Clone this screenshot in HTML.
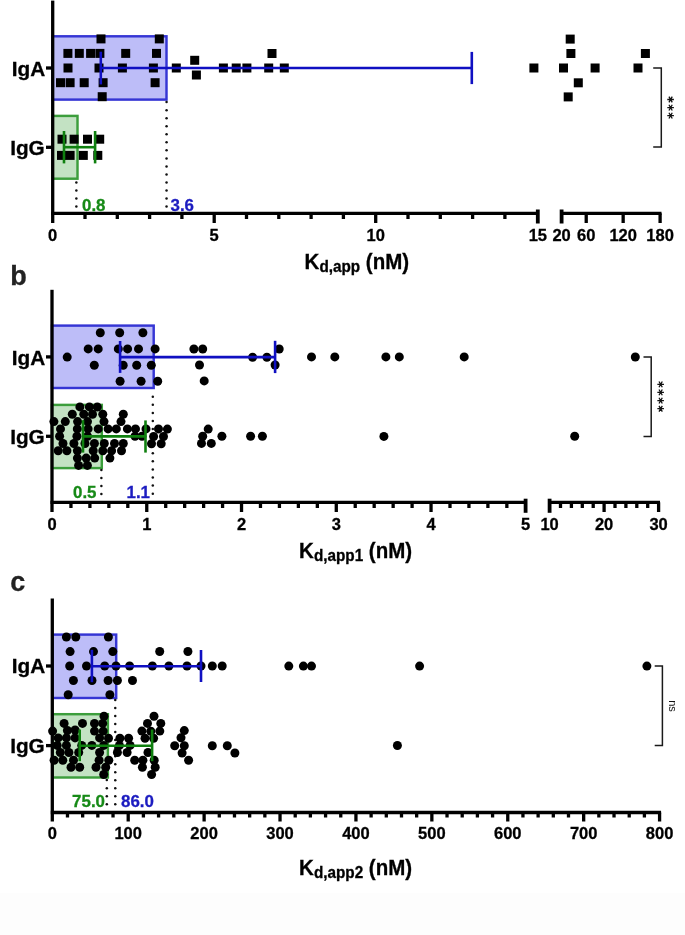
<!DOCTYPE html>
<html><head><meta charset="utf-8"><style>
html,body{margin:0;padding:0;background:#fff;}
body{width:685px;height:935px;overflow:hidden;position:relative;}
svg{position:absolute;left:0;top:0;font-family:"Liberation Sans", sans-serif;will-change:transform;}
.bot{position:absolute;left:0;top:893px;width:685px;height:42px;background:#fdfdfd;}
</style></head><body>
<div class="bot"></div>
<svg width="685" height="935" viewBox="0 0 685 935">
<rect x="52.70" y="36.30" width="113.80" height="63.30" fill="#bdbdf8" stroke="#3535d4" stroke-width="2.45"/>
<rect x="52.70" y="115.90" width="24.80" height="62.80" fill="#c3e2c3" stroke="#3c9e3c" stroke-width="2.45"/>
<circle cx="166.55" cy="102.10" r="1.25" fill="#111"/>
<circle cx="166.55" cy="110.14" r="1.25" fill="#111"/>
<circle cx="166.55" cy="118.18" r="1.25" fill="#111"/>
<circle cx="166.55" cy="126.22" r="1.25" fill="#111"/>
<circle cx="166.55" cy="134.26" r="1.25" fill="#111"/>
<circle cx="166.55" cy="142.30" r="1.25" fill="#111"/>
<circle cx="166.55" cy="150.34" r="1.25" fill="#111"/>
<circle cx="166.55" cy="158.38" r="1.25" fill="#111"/>
<circle cx="166.55" cy="166.42" r="1.25" fill="#111"/>
<circle cx="166.55" cy="174.46" r="1.25" fill="#111"/>
<circle cx="166.55" cy="182.50" r="1.25" fill="#111"/>
<circle cx="166.55" cy="190.54" r="1.25" fill="#111"/>
<circle cx="166.55" cy="198.58" r="1.25" fill="#111"/>
<circle cx="166.55" cy="206.62" r="1.25" fill="#111"/>
<circle cx="76.35" cy="182.40" r="1.25" fill="#111"/>
<circle cx="76.35" cy="190.44" r="1.25" fill="#111"/>
<circle cx="76.35" cy="198.48" r="1.25" fill="#111"/>
<circle cx="76.35" cy="206.52" r="1.25" fill="#111"/>
<rect x="96.50" y="34.40" width="9" height="9" fill="#000"/>
<rect x="154.80" y="34.40" width="9" height="9" fill="#000"/>
<rect x="63.40" y="48.90" width="9" height="9" fill="#000"/>
<rect x="74.80" y="48.90" width="9" height="9" fill="#000"/>
<rect x="86.10" y="48.90" width="9" height="9" fill="#000"/>
<rect x="95.40" y="48.90" width="9" height="9" fill="#000"/>
<rect x="121.20" y="48.90" width="9" height="9" fill="#000"/>
<rect x="152.00" y="48.90" width="9" height="9" fill="#000"/>
<rect x="63.50" y="63.50" width="9" height="9" fill="#000"/>
<rect x="94.50" y="63.50" width="9" height="9" fill="#000"/>
<rect x="117.90" y="63.50" width="9" height="9" fill="#000"/>
<rect x="148.90" y="63.50" width="9" height="9" fill="#000"/>
<rect x="56.00" y="78.20" width="9" height="9" fill="#000"/>
<rect x="65.60" y="78.20" width="9" height="9" fill="#000"/>
<rect x="79.70" y="78.20" width="9" height="9" fill="#000"/>
<rect x="98.60" y="78.20" width="9" height="9" fill="#000"/>
<rect x="150.60" y="78.20" width="9" height="9" fill="#000"/>
<rect x="97.70" y="92.20" width="9" height="9" fill="#000"/>
<rect x="171.80" y="63.50" width="9" height="9" fill="#000"/>
<rect x="190.20" y="55.80" width="9" height="9" fill="#000"/>
<rect x="191.90" y="70.50" width="9" height="9" fill="#000"/>
<rect x="218.90" y="63.50" width="9" height="9" fill="#000"/>
<rect x="231.70" y="63.50" width="9" height="9" fill="#000"/>
<rect x="242.40" y="63.50" width="9" height="9" fill="#000"/>
<rect x="264.20" y="63.50" width="9" height="9" fill="#000"/>
<rect x="267.50" y="49.00" width="9" height="9" fill="#000"/>
<rect x="279.80" y="63.50" width="9" height="9" fill="#000"/>
<rect x="529.40" y="63.50" width="9" height="9" fill="#000"/>
<rect x="565.70" y="34.60" width="9" height="9" fill="#000"/>
<rect x="566.40" y="49.00" width="9" height="9" fill="#000"/>
<rect x="559.00" y="63.50" width="9" height="9" fill="#000"/>
<rect x="590.60" y="63.50" width="9" height="9" fill="#000"/>
<rect x="573.80" y="78.30" width="9" height="9" fill="#000"/>
<rect x="563.70" y="92.40" width="9" height="9" fill="#000"/>
<rect x="640.90" y="49.00" width="9" height="9" fill="#000"/>
<rect x="633.50" y="63.50" width="9" height="9" fill="#000"/>
<rect x="57.50" y="134.70" width="9" height="9" fill="#000"/>
<rect x="69.60" y="134.70" width="9" height="9" fill="#000"/>
<rect x="83.00" y="134.70" width="9" height="9" fill="#000"/>
<rect x="95.20" y="134.70" width="9" height="9" fill="#000"/>
<rect x="57.00" y="150.90" width="9" height="9" fill="#000"/>
<rect x="65.60" y="150.90" width="9" height="9" fill="#000"/>
<rect x="78.80" y="150.90" width="9" height="9" fill="#000"/>
<rect x="93.30" y="150.90" width="9" height="9" fill="#000"/>
<line x1="100.80" y1="51.70" x2="100.80" y2="84.40" stroke="#1010c2" stroke-width="2.6" stroke-linecap="butt"/>
<line x1="100.80" y1="68.00" x2="471.80" y2="68.00" stroke="#1010c2" stroke-width="2.6" stroke-linecap="butt"/>
<line x1="471.80" y1="51.90" x2="471.80" y2="84.10" stroke="#1010c2" stroke-width="2.6" stroke-linecap="butt"/>
<line x1="64.00" y1="131.00" x2="64.00" y2="163.40" stroke="#0f800f" stroke-width="2.6" stroke-linecap="butt"/>
<line x1="95.10" y1="131.00" x2="95.10" y2="163.40" stroke="#0f800f" stroke-width="2.6" stroke-linecap="butt"/>
<line x1="64.00" y1="147.20" x2="95.10" y2="147.20" stroke="#0f800f" stroke-width="2.6" stroke-linecap="butt"/>
<line x1="52.70" y1="0.60" x2="52.70" y2="223.00" stroke="#000" stroke-width="3.3" stroke-linecap="butt"/>
<line x1="51.20" y1="213.30" x2="537.80" y2="213.30" stroke="#000" stroke-width="3.3" stroke-linecap="butt"/>
<line x1="560.10" y1="213.30" x2="661.50" y2="213.30" stroke="#000" stroke-width="3.3" stroke-linecap="butt"/>
<line x1="85.00" y1="213.30" x2="85.00" y2="219.00" stroke="#000" stroke-width="3.3" stroke-linecap="butt"/>
<line x1="117.30" y1="213.30" x2="117.30" y2="219.00" stroke="#000" stroke-width="3.3" stroke-linecap="butt"/>
<line x1="149.60" y1="213.30" x2="149.60" y2="219.00" stroke="#000" stroke-width="3.3" stroke-linecap="butt"/>
<line x1="181.90" y1="213.30" x2="181.90" y2="219.00" stroke="#000" stroke-width="3.3" stroke-linecap="butt"/>
<line x1="214.20" y1="213.30" x2="214.20" y2="223.00" stroke="#000" stroke-width="3.3" stroke-linecap="butt"/>
<line x1="246.50" y1="213.30" x2="246.50" y2="219.00" stroke="#000" stroke-width="3.3" stroke-linecap="butt"/>
<line x1="278.80" y1="213.30" x2="278.80" y2="219.00" stroke="#000" stroke-width="3.3" stroke-linecap="butt"/>
<line x1="311.10" y1="213.30" x2="311.10" y2="219.00" stroke="#000" stroke-width="3.3" stroke-linecap="butt"/>
<line x1="343.40" y1="213.30" x2="343.40" y2="219.00" stroke="#000" stroke-width="3.3" stroke-linecap="butt"/>
<line x1="375.70" y1="213.30" x2="375.70" y2="223.00" stroke="#000" stroke-width="3.3" stroke-linecap="butt"/>
<line x1="408.00" y1="213.30" x2="408.00" y2="219.00" stroke="#000" stroke-width="3.3" stroke-linecap="butt"/>
<line x1="440.30" y1="213.30" x2="440.30" y2="219.00" stroke="#000" stroke-width="3.3" stroke-linecap="butt"/>
<line x1="472.60" y1="213.30" x2="472.60" y2="219.00" stroke="#000" stroke-width="3.3" stroke-linecap="butt"/>
<line x1="504.90" y1="213.30" x2="504.90" y2="219.00" stroke="#000" stroke-width="3.3" stroke-linecap="butt"/>
<line x1="537.80" y1="209.50" x2="537.80" y2="223.50" stroke="#000" stroke-width="3.8" stroke-linecap="butt"/>
<line x1="561.60" y1="209.50" x2="561.60" y2="223.50" stroke="#000" stroke-width="3.8" stroke-linecap="butt"/>
<line x1="586.22" y1="213.30" x2="586.22" y2="223.00" stroke="#000" stroke-width="3.3" stroke-linecap="butt"/>
<line x1="623.16" y1="213.30" x2="623.16" y2="223.00" stroke="#000" stroke-width="3.3" stroke-linecap="butt"/>
<line x1="660.10" y1="213.30" x2="660.10" y2="223.00" stroke="#000" stroke-width="3.3" stroke-linecap="butt"/>
<line x1="46.00" y1="68.00" x2="52.70" y2="68.00" stroke="#000" stroke-width="3.3" stroke-linecap="butt"/>
<line x1="46.00" y1="147.30" x2="52.70" y2="147.30" stroke="#000" stroke-width="3.3" stroke-linecap="butt"/>
<text transform="translate(45.30 75.80) scale(1.0 0.99)" font-size="20.8" fill="#000" stroke="#000" stroke-width="0.3" text-anchor="end" font-weight="bold" >IgA</text>
<text transform="translate(44.80 154.80) scale(1.0 0.99)" font-size="20.8" fill="#000" stroke="#000" stroke-width="0.3" text-anchor="end" font-weight="bold" >IgG</text>
<text transform="translate(52.70 240.80) scale(1.0 1.0)" font-size="16.5" fill="#000" stroke="#000" stroke-width="0.3" text-anchor="middle" font-weight="bold" >0</text>
<text transform="translate(214.20 240.80) scale(1.0 1.0)" font-size="16.5" fill="#000" stroke="#000" stroke-width="0.3" text-anchor="middle" font-weight="bold" >5</text>
<text transform="translate(375.70 240.80) scale(1.0 1.0)" font-size="16.5" fill="#000" stroke="#000" stroke-width="0.3" text-anchor="middle" font-weight="bold" >10</text>
<text transform="translate(537.80 240.80) scale(1.0 1.0)" font-size="16.5" fill="#000" stroke="#000" stroke-width="0.3" text-anchor="middle" font-weight="bold" >15</text>
<text transform="translate(561.60 240.80) scale(1.0 1.0)" font-size="16.5" fill="#000" stroke="#000" stroke-width="0.3" text-anchor="middle" font-weight="bold" >20</text>
<text transform="translate(586.22 240.80) scale(1.0 1.0)" font-size="16.5" fill="#000" stroke="#000" stroke-width="0.3" text-anchor="middle" font-weight="bold" >60</text>
<text transform="translate(623.16 240.80) scale(1.0 1.0)" font-size="16.5" fill="#000" stroke="#000" stroke-width="0.3" text-anchor="middle" font-weight="bold" >120</text>
<text transform="translate(660.10 240.80) scale(1.0 1.0)" font-size="16.5" fill="#000" stroke="#000" stroke-width="0.3" text-anchor="middle" font-weight="bold" >180</text>
<text transform="translate(82.00 210.60) scale(1.0 0.98)" font-size="16.9" fill="#178a17" stroke="#178a17" stroke-width="0.3" text-anchor="start" font-weight="bold" >0.8</text>
<text transform="translate(170.50 210.60) scale(1.0 0.98)" font-size="16.9" fill="#1c1cc0" stroke="#1c1cc0" stroke-width="0.3" text-anchor="start" font-weight="bold" >3.6</text>
<text transform="translate(304.60 268.80) scale(1 1.04)" font-size="20.5" font-weight="bold" stroke="#000" stroke-width="0.3">K<tspan font-size="15.3" dy="3.2">d,app</tspan><tspan dy="-3.2"> (nM)</tspan></text>
<path d="M653.2 68 H661.3 V147.1 H653.2" fill="none" stroke="#1a1a1a" stroke-width="1.5"/>
<path d="M667.30 99.50L673.90 99.50M668.95 96.64L672.25 102.36M672.25 96.64L668.95 102.36" stroke="#111" stroke-width="1.3" fill="none"/>
<path d="M667.30 107.60L673.90 107.60M668.95 104.74L672.25 110.46M672.25 104.74L668.95 110.46" stroke="#111" stroke-width="1.3" fill="none"/>
<path d="M667.30 115.60L673.90 115.60M668.95 112.74L672.25 118.46M672.25 112.74L668.95 118.46" stroke="#111" stroke-width="1.3" fill="none"/>
<rect x="52.00" y="325.60" width="101.70" height="62.40" fill="#bdbdf8" stroke="#3535d4" stroke-width="2.45"/>
<rect x="52.00" y="404.90" width="49.80" height="63.20" fill="#c3e2c3" stroke="#3c9e3c" stroke-width="2.45"/>
<circle cx="152.80" cy="396.80" r="1.25" fill="#111"/>
<circle cx="152.80" cy="404.87" r="1.25" fill="#111"/>
<circle cx="152.80" cy="412.94" r="1.25" fill="#111"/>
<circle cx="152.80" cy="421.01" r="1.25" fill="#111"/>
<circle cx="152.80" cy="429.08" r="1.25" fill="#111"/>
<circle cx="152.80" cy="437.15" r="1.25" fill="#111"/>
<circle cx="152.80" cy="445.22" r="1.25" fill="#111"/>
<circle cx="152.80" cy="453.29" r="1.25" fill="#111"/>
<circle cx="152.80" cy="461.36" r="1.25" fill="#111"/>
<circle cx="152.80" cy="469.43" r="1.25" fill="#111"/>
<circle cx="152.80" cy="477.50" r="1.25" fill="#111"/>
<circle cx="152.80" cy="485.57" r="1.25" fill="#111"/>
<circle cx="152.80" cy="493.64" r="1.25" fill="#111"/>
<circle cx="101.40" cy="470.10" r="1.25" fill="#111"/>
<circle cx="101.40" cy="478.10" r="1.25" fill="#111"/>
<circle cx="101.40" cy="486.10" r="1.25" fill="#111"/>
<circle cx="101.40" cy="494.10" r="1.25" fill="#111"/>
<circle cx="100.30" cy="332.80" r="4.5" fill="#000"/>
<circle cx="119.70" cy="332.80" r="4.5" fill="#000"/>
<circle cx="142.90" cy="332.80" r="4.5" fill="#000"/>
<circle cx="88.20" cy="348.90" r="4.5" fill="#000"/>
<circle cx="98.20" cy="348.90" r="4.5" fill="#000"/>
<circle cx="118.30" cy="348.90" r="4.5" fill="#000"/>
<circle cx="127.60" cy="348.90" r="4.5" fill="#000"/>
<circle cx="138.50" cy="348.90" r="4.5" fill="#000"/>
<circle cx="155.10" cy="348.90" r="4.5" fill="#000"/>
<circle cx="67.20" cy="357.10" r="4.5" fill="#000"/>
<circle cx="94.30" cy="365.20" r="4.5" fill="#000"/>
<circle cx="123.20" cy="365.20" r="4.5" fill="#000"/>
<circle cx="136.70" cy="365.20" r="4.5" fill="#000"/>
<circle cx="151.30" cy="365.20" r="4.5" fill="#000"/>
<circle cx="120.10" cy="381.30" r="4.5" fill="#000"/>
<circle cx="141.10" cy="381.30" r="4.5" fill="#000"/>
<circle cx="157.70" cy="381.30" r="4.5" fill="#000"/>
<circle cx="193.90" cy="349.00" r="4.5" fill="#000"/>
<circle cx="202.70" cy="349.00" r="4.5" fill="#000"/>
<circle cx="199.50" cy="365.00" r="4.5" fill="#000"/>
<circle cx="204.20" cy="380.90" r="4.5" fill="#000"/>
<circle cx="252.60" cy="357.20" r="4.5" fill="#000"/>
<circle cx="266.90" cy="357.20" r="4.5" fill="#000"/>
<circle cx="279.20" cy="349.00" r="4.5" fill="#000"/>
<circle cx="275.10" cy="365.00" r="4.5" fill="#000"/>
<circle cx="311.50" cy="356.90" r="4.5" fill="#000"/>
<circle cx="334.80" cy="356.90" r="4.5" fill="#000"/>
<circle cx="385.90" cy="356.90" r="4.5" fill="#000"/>
<circle cx="399.30" cy="356.90" r="4.5" fill="#000"/>
<circle cx="464.20" cy="356.90" r="4.5" fill="#000"/>
<circle cx="635.30" cy="357.00" r="4.5" fill="#000"/>
<circle cx="79.90" cy="406.90" r="4.5" fill="#000"/>
<circle cx="89.40" cy="406.90" r="4.5" fill="#000"/>
<circle cx="97.30" cy="407.00" r="4.5" fill="#000"/>
<circle cx="72.30" cy="414.30" r="4.5" fill="#000"/>
<circle cx="83.80" cy="414.30" r="4.5" fill="#000"/>
<circle cx="92.50" cy="414.30" r="4.5" fill="#000"/>
<circle cx="102.80" cy="414.30" r="4.5" fill="#000"/>
<circle cx="123.30" cy="414.30" r="4.5" fill="#000"/>
<circle cx="53.90" cy="421.60" r="4.5" fill="#000"/>
<circle cx="65.30" cy="421.60" r="4.5" fill="#000"/>
<circle cx="77.60" cy="421.60" r="4.5" fill="#000"/>
<circle cx="87.50" cy="421.60" r="4.5" fill="#000"/>
<circle cx="104.00" cy="421.60" r="4.5" fill="#000"/>
<circle cx="121.00" cy="421.60" r="4.5" fill="#000"/>
<circle cx="60.50" cy="428.90" r="4.5" fill="#000"/>
<circle cx="77.30" cy="428.90" r="4.5" fill="#000"/>
<circle cx="88.10" cy="428.90" r="4.5" fill="#000"/>
<circle cx="98.20" cy="428.90" r="4.5" fill="#000"/>
<circle cx="108.10" cy="428.90" r="4.5" fill="#000"/>
<circle cx="116.30" cy="428.90" r="4.5" fill="#000"/>
<circle cx="127.40" cy="428.90" r="4.5" fill="#000"/>
<circle cx="135.50" cy="428.90" r="4.5" fill="#000"/>
<circle cx="146.00" cy="428.90" r="4.5" fill="#000"/>
<circle cx="158.50" cy="428.90" r="4.5" fill="#000"/>
<circle cx="167.40" cy="429.10" r="4.5" fill="#000"/>
<circle cx="59.60" cy="436.20" r="4.5" fill="#000"/>
<circle cx="76.90" cy="436.20" r="4.5" fill="#000"/>
<circle cx="87.50" cy="436.20" r="4.5" fill="#000"/>
<circle cx="135.00" cy="436.20" r="4.5" fill="#000"/>
<circle cx="142.00" cy="436.20" r="4.5" fill="#000"/>
<circle cx="153.60" cy="436.50" r="4.5" fill="#000"/>
<circle cx="163.50" cy="436.50" r="4.5" fill="#000"/>
<circle cx="63.00" cy="443.50" r="4.5" fill="#000"/>
<circle cx="73.90" cy="443.50" r="4.5" fill="#000"/>
<circle cx="85.00" cy="443.50" r="4.5" fill="#000"/>
<circle cx="94.40" cy="443.50" r="4.5" fill="#000"/>
<circle cx="104.30" cy="443.50" r="4.5" fill="#000"/>
<circle cx="114.50" cy="443.50" r="4.5" fill="#000"/>
<circle cx="123.30" cy="443.50" r="4.5" fill="#000"/>
<circle cx="151.50" cy="443.80" r="4.5" fill="#000"/>
<circle cx="161.20" cy="443.80" r="4.5" fill="#000"/>
<circle cx="58.20" cy="450.80" r="4.5" fill="#000"/>
<circle cx="66.90" cy="450.80" r="4.5" fill="#000"/>
<circle cx="77.40" cy="450.80" r="4.5" fill="#000"/>
<circle cx="93.20" cy="450.80" r="4.5" fill="#000"/>
<circle cx="102.80" cy="450.80" r="4.5" fill="#000"/>
<circle cx="111.60" cy="450.80" r="4.5" fill="#000"/>
<circle cx="121.50" cy="450.80" r="4.5" fill="#000"/>
<circle cx="77.40" cy="458.10" r="4.5" fill="#000"/>
<circle cx="86.20" cy="458.10" r="4.5" fill="#000"/>
<circle cx="94.70" cy="458.10" r="4.5" fill="#000"/>
<circle cx="109.90" cy="458.10" r="4.5" fill="#000"/>
<circle cx="78.60" cy="465.40" r="4.5" fill="#000"/>
<circle cx="87.40" cy="465.40" r="4.5" fill="#000"/>
<circle cx="208.20" cy="429.10" r="4.5" fill="#000"/>
<circle cx="202.70" cy="436.30" r="4.5" fill="#000"/>
<circle cx="221.90" cy="436.30" r="4.5" fill="#000"/>
<circle cx="201.50" cy="443.40" r="4.5" fill="#000"/>
<circle cx="211.30" cy="443.40" r="4.5" fill="#000"/>
<circle cx="250.60" cy="436.30" r="4.5" fill="#000"/>
<circle cx="262.40" cy="436.30" r="4.5" fill="#000"/>
<circle cx="383.90" cy="436.40" r="4.5" fill="#000"/>
<circle cx="574.70" cy="436.20" r="4.5" fill="#000"/>
<line x1="120.10" y1="341.00" x2="120.10" y2="372.90" stroke="#1010c2" stroke-width="2.6" stroke-linecap="butt"/>
<line x1="120.10" y1="357.10" x2="275.10" y2="357.10" stroke="#1010c2" stroke-width="2.6" stroke-linecap="butt"/>
<line x1="275.10" y1="340.80" x2="275.10" y2="373.10" stroke="#1010c2" stroke-width="2.6" stroke-linecap="butt"/>
<line x1="83.00" y1="420.20" x2="83.00" y2="452.60" stroke="#0f800f" stroke-width="2.6" stroke-linecap="butt"/>
<line x1="83.00" y1="436.40" x2="145.50" y2="436.40" stroke="#0f800f" stroke-width="2.6" stroke-linecap="butt"/>
<line x1="145.50" y1="420.40" x2="145.50" y2="452.60" stroke="#0f800f" stroke-width="2.6" stroke-linecap="butt"/>
<line x1="52.00" y1="289.80" x2="52.00" y2="512.00" stroke="#000" stroke-width="3.3" stroke-linecap="butt"/>
<line x1="50.50" y1="502.30" x2="525.60" y2="502.30" stroke="#000" stroke-width="3.3" stroke-linecap="butt"/>
<line x1="548.10" y1="502.30" x2="660.00" y2="502.30" stroke="#000" stroke-width="3.3" stroke-linecap="butt"/>
<line x1="70.95" y1="502.30" x2="70.95" y2="508.00" stroke="#000" stroke-width="3.3" stroke-linecap="butt"/>
<line x1="89.90" y1="502.30" x2="89.90" y2="508.00" stroke="#000" stroke-width="3.3" stroke-linecap="butt"/>
<line x1="108.86" y1="502.30" x2="108.86" y2="508.00" stroke="#000" stroke-width="3.3" stroke-linecap="butt"/>
<line x1="127.81" y1="502.30" x2="127.81" y2="508.00" stroke="#000" stroke-width="3.3" stroke-linecap="butt"/>
<line x1="146.76" y1="502.30" x2="146.76" y2="512.00" stroke="#000" stroke-width="3.3" stroke-linecap="butt"/>
<line x1="165.71" y1="502.30" x2="165.71" y2="508.00" stroke="#000" stroke-width="3.3" stroke-linecap="butt"/>
<line x1="184.66" y1="502.30" x2="184.66" y2="508.00" stroke="#000" stroke-width="3.3" stroke-linecap="butt"/>
<line x1="203.62" y1="502.30" x2="203.62" y2="508.00" stroke="#000" stroke-width="3.3" stroke-linecap="butt"/>
<line x1="222.57" y1="502.30" x2="222.57" y2="508.00" stroke="#000" stroke-width="3.3" stroke-linecap="butt"/>
<line x1="241.52" y1="502.30" x2="241.52" y2="512.00" stroke="#000" stroke-width="3.3" stroke-linecap="butt"/>
<line x1="260.47" y1="502.30" x2="260.47" y2="508.00" stroke="#000" stroke-width="3.3" stroke-linecap="butt"/>
<line x1="279.42" y1="502.30" x2="279.42" y2="508.00" stroke="#000" stroke-width="3.3" stroke-linecap="butt"/>
<line x1="298.38" y1="502.30" x2="298.38" y2="508.00" stroke="#000" stroke-width="3.3" stroke-linecap="butt"/>
<line x1="317.33" y1="502.30" x2="317.33" y2="508.00" stroke="#000" stroke-width="3.3" stroke-linecap="butt"/>
<line x1="336.28" y1="502.30" x2="336.28" y2="512.00" stroke="#000" stroke-width="3.3" stroke-linecap="butt"/>
<line x1="355.23" y1="502.30" x2="355.23" y2="508.00" stroke="#000" stroke-width="3.3" stroke-linecap="butt"/>
<line x1="374.18" y1="502.30" x2="374.18" y2="508.00" stroke="#000" stroke-width="3.3" stroke-linecap="butt"/>
<line x1="393.14" y1="502.30" x2="393.14" y2="508.00" stroke="#000" stroke-width="3.3" stroke-linecap="butt"/>
<line x1="412.09" y1="502.30" x2="412.09" y2="508.00" stroke="#000" stroke-width="3.3" stroke-linecap="butt"/>
<line x1="431.04" y1="502.30" x2="431.04" y2="512.00" stroke="#000" stroke-width="3.3" stroke-linecap="butt"/>
<line x1="449.99" y1="502.30" x2="449.99" y2="508.00" stroke="#000" stroke-width="3.3" stroke-linecap="butt"/>
<line x1="468.94" y1="502.30" x2="468.94" y2="508.00" stroke="#000" stroke-width="3.3" stroke-linecap="butt"/>
<line x1="487.90" y1="502.30" x2="487.90" y2="508.00" stroke="#000" stroke-width="3.3" stroke-linecap="butt"/>
<line x1="506.85" y1="502.30" x2="506.85" y2="508.00" stroke="#000" stroke-width="3.3" stroke-linecap="butt"/>
<line x1="525.60" y1="498.70" x2="525.60" y2="512.80" stroke="#000" stroke-width="3.8" stroke-linecap="butt"/>
<line x1="549.60" y1="498.70" x2="549.60" y2="512.80" stroke="#000" stroke-width="3.8" stroke-linecap="butt"/>
<line x1="560.50" y1="502.30" x2="560.50" y2="508.00" stroke="#000" stroke-width="3.3" stroke-linecap="butt"/>
<line x1="571.40" y1="502.30" x2="571.40" y2="508.00" stroke="#000" stroke-width="3.3" stroke-linecap="butt"/>
<line x1="582.30" y1="502.30" x2="582.30" y2="508.00" stroke="#000" stroke-width="3.3" stroke-linecap="butt"/>
<line x1="593.20" y1="502.30" x2="593.20" y2="508.00" stroke="#000" stroke-width="3.3" stroke-linecap="butt"/>
<line x1="604.10" y1="502.30" x2="604.10" y2="512.00" stroke="#000" stroke-width="3.3" stroke-linecap="butt"/>
<line x1="615.00" y1="502.30" x2="615.00" y2="508.00" stroke="#000" stroke-width="3.3" stroke-linecap="butt"/>
<line x1="625.90" y1="502.30" x2="625.90" y2="508.00" stroke="#000" stroke-width="3.3" stroke-linecap="butt"/>
<line x1="636.80" y1="502.30" x2="636.80" y2="508.00" stroke="#000" stroke-width="3.3" stroke-linecap="butt"/>
<line x1="647.70" y1="502.30" x2="647.70" y2="508.00" stroke="#000" stroke-width="3.3" stroke-linecap="butt"/>
<line x1="658.60" y1="502.30" x2="658.60" y2="512.00" stroke="#000" stroke-width="3.3" stroke-linecap="butt"/>
<line x1="46.00" y1="356.90" x2="52.00" y2="356.90" stroke="#000" stroke-width="3.3" stroke-linecap="butt"/>
<line x1="46.00" y1="436.30" x2="52.00" y2="436.30" stroke="#000" stroke-width="3.3" stroke-linecap="butt"/>
<text transform="translate(45.30 364.80) scale(1.0 0.99)" font-size="20.8" fill="#000" stroke="#000" stroke-width="0.3" text-anchor="end" font-weight="bold" >IgA</text>
<text transform="translate(44.80 443.50) scale(1.0 0.99)" font-size="20.8" fill="#000" stroke="#000" stroke-width="0.3" text-anchor="end" font-weight="bold" >IgG</text>
<text transform="translate(52.00 529.50) scale(1.0 1.0)" font-size="16.5" fill="#000" stroke="#000" stroke-width="0.3" text-anchor="middle" font-weight="bold" >0</text>
<text transform="translate(146.76 529.50) scale(1.0 1.0)" font-size="16.5" fill="#000" stroke="#000" stroke-width="0.3" text-anchor="middle" font-weight="bold" >1</text>
<text transform="translate(241.52 529.50) scale(1.0 1.0)" font-size="16.5" fill="#000" stroke="#000" stroke-width="0.3" text-anchor="middle" font-weight="bold" >2</text>
<text transform="translate(336.28 529.50) scale(1.0 1.0)" font-size="16.5" fill="#000" stroke="#000" stroke-width="0.3" text-anchor="middle" font-weight="bold" >3</text>
<text transform="translate(431.04 529.50) scale(1.0 1.0)" font-size="16.5" fill="#000" stroke="#000" stroke-width="0.3" text-anchor="middle" font-weight="bold" >4</text>
<text transform="translate(525.60 529.50) scale(1.0 1.0)" font-size="16.5" fill="#000" stroke="#000" stroke-width="0.3" text-anchor="middle" font-weight="bold" >5</text>
<text transform="translate(549.60 529.50) scale(1.0 1.0)" font-size="16.5" fill="#000" stroke="#000" stroke-width="0.3" text-anchor="middle" font-weight="bold" >10</text>
<text transform="translate(604.10 529.50) scale(1.0 1.0)" font-size="16.5" fill="#000" stroke="#000" stroke-width="0.3" text-anchor="middle" font-weight="bold" >20</text>
<text transform="translate(658.60 529.50) scale(1.0 1.0)" font-size="16.5" fill="#000" stroke="#000" stroke-width="0.3" text-anchor="middle" font-weight="bold" >30</text>
<text transform="translate(73.00 498.20) scale(1.0 0.98)" font-size="16.9" fill="#178a17" stroke="#178a17" stroke-width="0.3" text-anchor="start" font-weight="bold" >0.5</text>
<text transform="translate(126.50 498.20) scale(1.0 0.98)" font-size="16.9" fill="#1c1cc0" stroke="#1c1cc0" stroke-width="0.3" text-anchor="start" font-weight="bold" >1.1</text>
<text transform="translate(299.10 558.00) scale(1 1.04)" font-size="20.5" font-weight="bold" stroke="#000" stroke-width="0.3">K<tspan font-size="15.3" dy="3.2">d,app1</tspan><tspan dy="-3.2"> (nM)</tspan></text>
<path d="M643.5 357 H651.2 V436.4 H643.5" fill="none" stroke="#1a1a1a" stroke-width="1.5"/>
<path d="M657.35 384.40L663.95 384.40M659.00 381.54L662.30 387.26M662.30 381.54L659.00 387.26" stroke="#111" stroke-width="1.3" fill="none"/>
<path d="M657.35 392.40L663.95 392.40M659.00 389.54L662.30 395.26M662.30 389.54L659.00 395.26" stroke="#111" stroke-width="1.3" fill="none"/>
<path d="M657.35 400.60L663.95 400.60M659.00 397.74L662.30 403.46M662.30 397.74L659.00 403.46" stroke="#111" stroke-width="1.3" fill="none"/>
<path d="M657.35 408.70L663.95 408.70M659.00 405.84L662.30 411.56M662.30 405.84L659.00 411.56" stroke="#111" stroke-width="1.3" fill="none"/>
<text transform="translate(10.20 285.10) scale(1.0 1.0)" font-size="27" fill="#222" stroke="#222" stroke-width="0.3" text-anchor="start" font-weight="bold" >b</text>
<rect x="52.30" y="634.60" width="63.90" height="63.40" fill="#bdbdf8" stroke="#3535d4" stroke-width="2.45"/>
<rect x="52.30" y="714.20" width="55.60" height="63.30" fill="#c3e2c3" stroke="#3c9e3c" stroke-width="2.45"/>
<circle cx="115.25" cy="700.00" r="1.25" fill="#111"/>
<circle cx="115.25" cy="708.02" r="1.25" fill="#111"/>
<circle cx="115.25" cy="716.04" r="1.25" fill="#111"/>
<circle cx="115.25" cy="724.06" r="1.25" fill="#111"/>
<circle cx="115.25" cy="732.08" r="1.25" fill="#111"/>
<circle cx="115.25" cy="740.10" r="1.25" fill="#111"/>
<circle cx="115.25" cy="748.12" r="1.25" fill="#111"/>
<circle cx="115.25" cy="756.14" r="1.25" fill="#111"/>
<circle cx="115.25" cy="764.16" r="1.25" fill="#111"/>
<circle cx="115.25" cy="772.18" r="1.25" fill="#111"/>
<circle cx="115.25" cy="780.20" r="1.25" fill="#111"/>
<circle cx="115.25" cy="788.22" r="1.25" fill="#111"/>
<circle cx="115.25" cy="796.24" r="1.25" fill="#111"/>
<circle cx="115.25" cy="804.26" r="1.25" fill="#111"/>
<circle cx="106.80" cy="780.10" r="1.25" fill="#111"/>
<circle cx="106.80" cy="788.13" r="1.25" fill="#111"/>
<circle cx="106.80" cy="796.16" r="1.25" fill="#111"/>
<circle cx="106.80" cy="804.19" r="1.25" fill="#111"/>
<circle cx="66.40" cy="637.00" r="4.5" fill="#000"/>
<circle cx="75.80" cy="637.00" r="4.5" fill="#000"/>
<circle cx="108.40" cy="637.00" r="4.5" fill="#000"/>
<circle cx="70.10" cy="651.60" r="4.5" fill="#000"/>
<circle cx="93.50" cy="651.60" r="4.5" fill="#000"/>
<circle cx="112.80" cy="651.60" r="4.5" fill="#000"/>
<circle cx="159.70" cy="651.50" r="4.5" fill="#000"/>
<circle cx="187.90" cy="651.50" r="4.5" fill="#000"/>
<circle cx="69.70" cy="666.00" r="4.5" fill="#000"/>
<circle cx="86.50" cy="666.00" r="4.5" fill="#000"/>
<circle cx="104.70" cy="666.00" r="4.5" fill="#000"/>
<circle cx="116.00" cy="666.00" r="4.5" fill="#000"/>
<circle cx="129.60" cy="666.00" r="4.5" fill="#000"/>
<circle cx="152.40" cy="666.00" r="4.5" fill="#000"/>
<circle cx="168.90" cy="666.00" r="4.5" fill="#000"/>
<circle cx="187.00" cy="666.00" r="4.5" fill="#000"/>
<circle cx="201.00" cy="666.00" r="4.5" fill="#000"/>
<circle cx="212.30" cy="666.00" r="4.5" fill="#000"/>
<circle cx="222.20" cy="666.00" r="4.5" fill="#000"/>
<circle cx="288.80" cy="666.10" r="4.5" fill="#000"/>
<circle cx="303.40" cy="666.10" r="4.5" fill="#000"/>
<circle cx="311.50" cy="666.10" r="4.5" fill="#000"/>
<circle cx="419.60" cy="666.10" r="4.5" fill="#000"/>
<circle cx="646.90" cy="666.10" r="4.5" fill="#000"/>
<circle cx="73.40" cy="680.50" r="4.5" fill="#000"/>
<circle cx="92.00" cy="680.50" r="4.5" fill="#000"/>
<circle cx="108.10" cy="680.50" r="4.5" fill="#000"/>
<circle cx="117.40" cy="680.50" r="4.5" fill="#000"/>
<circle cx="132.50" cy="680.50" r="4.5" fill="#000"/>
<circle cx="68.20" cy="694.80" r="4.5" fill="#000"/>
<circle cx="109.90" cy="694.80" r="4.5" fill="#000"/>
<circle cx="104.00" cy="716.20" r="4.5" fill="#000"/>
<circle cx="154.00" cy="716.20" r="4.5" fill="#000"/>
<circle cx="64.10" cy="723.40" r="4.5" fill="#000"/>
<circle cx="82.50" cy="723.40" r="4.5" fill="#000"/>
<circle cx="94.50" cy="723.40" r="4.5" fill="#000"/>
<circle cx="102.70" cy="723.40" r="4.5" fill="#000"/>
<circle cx="147.50" cy="723.40" r="4.5" fill="#000"/>
<circle cx="160.80" cy="723.40" r="4.5" fill="#000"/>
<circle cx="52.60" cy="731.10" r="4.5" fill="#000"/>
<circle cx="67.40" cy="730.50" r="4.5" fill="#000"/>
<circle cx="75.10" cy="730.00" r="4.5" fill="#000"/>
<circle cx="94.50" cy="731.10" r="4.5" fill="#000"/>
<circle cx="103.20" cy="731.10" r="4.5" fill="#000"/>
<circle cx="141.90" cy="731.10" r="4.5" fill="#000"/>
<circle cx="150.80" cy="731.20" r="4.5" fill="#000"/>
<circle cx="159.80" cy="731.10" r="4.5" fill="#000"/>
<circle cx="184.30" cy="730.60" r="4.5" fill="#000"/>
<circle cx="58.20" cy="737.90" r="4.5" fill="#000"/>
<circle cx="66.40" cy="737.90" r="4.5" fill="#000"/>
<circle cx="75.10" cy="737.90" r="4.5" fill="#000"/>
<circle cx="99.60" cy="737.90" r="4.5" fill="#000"/>
<circle cx="108.50" cy="738.20" r="4.5" fill="#000"/>
<circle cx="119.90" cy="738.20" r="4.5" fill="#000"/>
<circle cx="128.60" cy="738.20" r="4.5" fill="#000"/>
<circle cx="145.00" cy="738.20" r="4.5" fill="#000"/>
<circle cx="153.60" cy="738.20" r="4.5" fill="#000"/>
<circle cx="181.00" cy="737.80" r="4.5" fill="#000"/>
<circle cx="57.20" cy="745.40" r="4.5" fill="#000"/>
<circle cx="66.40" cy="745.40" r="4.5" fill="#000"/>
<circle cx="81.70" cy="745.40" r="4.5" fill="#000"/>
<circle cx="91.90" cy="745.40" r="4.5" fill="#000"/>
<circle cx="103.70" cy="745.40" r="4.5" fill="#000"/>
<circle cx="119.40" cy="745.40" r="4.5" fill="#000"/>
<circle cx="130.10" cy="745.40" r="4.5" fill="#000"/>
<circle cx="174.70" cy="745.70" r="4.5" fill="#000"/>
<circle cx="184.30" cy="745.70" r="4.5" fill="#000"/>
<circle cx="212.30" cy="745.70" r="4.5" fill="#000"/>
<circle cx="227.30" cy="745.70" r="4.5" fill="#000"/>
<circle cx="397.40" cy="745.50" r="4.5" fill="#000"/>
<circle cx="60.30" cy="752.50" r="4.5" fill="#000"/>
<circle cx="68.90" cy="752.50" r="4.5" fill="#000"/>
<circle cx="78.70" cy="752.50" r="4.5" fill="#000"/>
<circle cx="99.60" cy="752.50" r="4.5" fill="#000"/>
<circle cx="117.40" cy="752.50" r="4.5" fill="#000"/>
<circle cx="127.10" cy="752.50" r="4.5" fill="#000"/>
<circle cx="148.00" cy="752.50" r="4.5" fill="#000"/>
<circle cx="182.10" cy="753.00" r="4.5" fill="#000"/>
<circle cx="234.90" cy="753.00" r="4.5" fill="#000"/>
<circle cx="54.10" cy="760.20" r="4.5" fill="#000"/>
<circle cx="62.80" cy="760.20" r="4.5" fill="#000"/>
<circle cx="73.50" cy="760.20" r="4.5" fill="#000"/>
<circle cx="99.10" cy="760.20" r="4.5" fill="#000"/>
<circle cx="108.80" cy="760.20" r="4.5" fill="#000"/>
<circle cx="134.70" cy="760.20" r="4.5" fill="#000"/>
<circle cx="142.90" cy="760.20" r="4.5" fill="#000"/>
<circle cx="154.20" cy="760.20" r="4.5" fill="#000"/>
<circle cx="188.60" cy="760.20" r="4.5" fill="#000"/>
<circle cx="71.00" cy="767.30" r="4.5" fill="#000"/>
<circle cx="79.70" cy="767.30" r="4.5" fill="#000"/>
<circle cx="96.00" cy="767.30" r="4.5" fill="#000"/>
<circle cx="105.70" cy="767.30" r="4.5" fill="#000"/>
<circle cx="142.40" cy="767.30" r="4.5" fill="#000"/>
<circle cx="155.20" cy="767.30" r="4.5" fill="#000"/>
<circle cx="103.70" cy="774.50" r="4.5" fill="#000"/>
<circle cx="151.60" cy="774.50" r="4.5" fill="#000"/>
<line x1="91.90" y1="649.80" x2="91.90" y2="682.20" stroke="#1010c2" stroke-width="2.6" stroke-linecap="butt"/>
<line x1="91.90" y1="666.20" x2="201.00" y2="666.20" stroke="#1010c2" stroke-width="2.6" stroke-linecap="butt"/>
<line x1="201.00" y1="650.00" x2="201.00" y2="682.00" stroke="#1010c2" stroke-width="2.6" stroke-linecap="butt"/>
<line x1="79.70" y1="729.50" x2="79.70" y2="761.20" stroke="#0f800f" stroke-width="2.6" stroke-linecap="butt"/>
<line x1="79.70" y1="745.70" x2="152.10" y2="745.70" stroke="#0f800f" stroke-width="2.6" stroke-linecap="butt"/>
<line x1="152.10" y1="729.50" x2="152.10" y2="761.20" stroke="#0f800f" stroke-width="2.6" stroke-linecap="butt"/>
<line x1="52.30" y1="598.50" x2="52.30" y2="821.50" stroke="#000" stroke-width="3.3" stroke-linecap="butt"/>
<line x1="50.80" y1="812.50" x2="661.08" y2="812.50" stroke="#000" stroke-width="3.3" stroke-linecap="butt"/>
<line x1="67.48" y1="812.50" x2="67.48" y2="817.50" stroke="#000" stroke-width="3.3" stroke-linecap="butt"/>
<line x1="82.66" y1="812.50" x2="82.66" y2="817.50" stroke="#000" stroke-width="3.3" stroke-linecap="butt"/>
<line x1="97.85" y1="812.50" x2="97.85" y2="817.50" stroke="#000" stroke-width="3.3" stroke-linecap="butt"/>
<line x1="113.03" y1="812.50" x2="113.03" y2="817.50" stroke="#000" stroke-width="3.3" stroke-linecap="butt"/>
<line x1="128.21" y1="812.50" x2="128.21" y2="821.50" stroke="#000" stroke-width="3.3" stroke-linecap="butt"/>
<line x1="143.39" y1="812.50" x2="143.39" y2="817.50" stroke="#000" stroke-width="3.3" stroke-linecap="butt"/>
<line x1="158.57" y1="812.50" x2="158.57" y2="817.50" stroke="#000" stroke-width="3.3" stroke-linecap="butt"/>
<line x1="173.76" y1="812.50" x2="173.76" y2="817.50" stroke="#000" stroke-width="3.3" stroke-linecap="butt"/>
<line x1="188.94" y1="812.50" x2="188.94" y2="817.50" stroke="#000" stroke-width="3.3" stroke-linecap="butt"/>
<line x1="204.12" y1="812.50" x2="204.12" y2="821.50" stroke="#000" stroke-width="3.3" stroke-linecap="butt"/>
<line x1="219.30" y1="812.50" x2="219.30" y2="817.50" stroke="#000" stroke-width="3.3" stroke-linecap="butt"/>
<line x1="234.48" y1="812.50" x2="234.48" y2="817.50" stroke="#000" stroke-width="3.3" stroke-linecap="butt"/>
<line x1="249.67" y1="812.50" x2="249.67" y2="817.50" stroke="#000" stroke-width="3.3" stroke-linecap="butt"/>
<line x1="264.85" y1="812.50" x2="264.85" y2="817.50" stroke="#000" stroke-width="3.3" stroke-linecap="butt"/>
<line x1="280.03" y1="812.50" x2="280.03" y2="821.50" stroke="#000" stroke-width="3.3" stroke-linecap="butt"/>
<line x1="295.21" y1="812.50" x2="295.21" y2="817.50" stroke="#000" stroke-width="3.3" stroke-linecap="butt"/>
<line x1="310.39" y1="812.50" x2="310.39" y2="817.50" stroke="#000" stroke-width="3.3" stroke-linecap="butt"/>
<line x1="325.58" y1="812.50" x2="325.58" y2="817.50" stroke="#000" stroke-width="3.3" stroke-linecap="butt"/>
<line x1="340.76" y1="812.50" x2="340.76" y2="817.50" stroke="#000" stroke-width="3.3" stroke-linecap="butt"/>
<line x1="355.94" y1="812.50" x2="355.94" y2="821.50" stroke="#000" stroke-width="3.3" stroke-linecap="butt"/>
<line x1="371.12" y1="812.50" x2="371.12" y2="817.50" stroke="#000" stroke-width="3.3" stroke-linecap="butt"/>
<line x1="386.30" y1="812.50" x2="386.30" y2="817.50" stroke="#000" stroke-width="3.3" stroke-linecap="butt"/>
<line x1="401.49" y1="812.50" x2="401.49" y2="817.50" stroke="#000" stroke-width="3.3" stroke-linecap="butt"/>
<line x1="416.67" y1="812.50" x2="416.67" y2="817.50" stroke="#000" stroke-width="3.3" stroke-linecap="butt"/>
<line x1="431.85" y1="812.50" x2="431.85" y2="821.50" stroke="#000" stroke-width="3.3" stroke-linecap="butt"/>
<line x1="447.03" y1="812.50" x2="447.03" y2="817.50" stroke="#000" stroke-width="3.3" stroke-linecap="butt"/>
<line x1="462.21" y1="812.50" x2="462.21" y2="817.50" stroke="#000" stroke-width="3.3" stroke-linecap="butt"/>
<line x1="477.40" y1="812.50" x2="477.40" y2="817.50" stroke="#000" stroke-width="3.3" stroke-linecap="butt"/>
<line x1="492.58" y1="812.50" x2="492.58" y2="817.50" stroke="#000" stroke-width="3.3" stroke-linecap="butt"/>
<line x1="507.76" y1="812.50" x2="507.76" y2="821.50" stroke="#000" stroke-width="3.3" stroke-linecap="butt"/>
<line x1="522.94" y1="812.50" x2="522.94" y2="817.50" stroke="#000" stroke-width="3.3" stroke-linecap="butt"/>
<line x1="538.12" y1="812.50" x2="538.12" y2="817.50" stroke="#000" stroke-width="3.3" stroke-linecap="butt"/>
<line x1="553.31" y1="812.50" x2="553.31" y2="817.50" stroke="#000" stroke-width="3.3" stroke-linecap="butt"/>
<line x1="568.49" y1="812.50" x2="568.49" y2="817.50" stroke="#000" stroke-width="3.3" stroke-linecap="butt"/>
<line x1="583.67" y1="812.50" x2="583.67" y2="821.50" stroke="#000" stroke-width="3.3" stroke-linecap="butt"/>
<line x1="598.85" y1="812.50" x2="598.85" y2="817.50" stroke="#000" stroke-width="3.3" stroke-linecap="butt"/>
<line x1="614.03" y1="812.50" x2="614.03" y2="817.50" stroke="#000" stroke-width="3.3" stroke-linecap="butt"/>
<line x1="629.22" y1="812.50" x2="629.22" y2="817.50" stroke="#000" stroke-width="3.3" stroke-linecap="butt"/>
<line x1="644.40" y1="812.50" x2="644.40" y2="817.50" stroke="#000" stroke-width="3.3" stroke-linecap="butt"/>
<line x1="659.58" y1="812.50" x2="659.58" y2="821.50" stroke="#000" stroke-width="3.3" stroke-linecap="butt"/>
<line x1="46.00" y1="666.00" x2="52.30" y2="666.00" stroke="#000" stroke-width="3.3" stroke-linecap="butt"/>
<line x1="46.00" y1="745.60" x2="52.30" y2="745.60" stroke="#000" stroke-width="3.3" stroke-linecap="butt"/>
<text transform="translate(45.30 673.30) scale(1.0 0.99)" font-size="20.8" fill="#000" stroke="#000" stroke-width="0.3" text-anchor="end" font-weight="bold" >IgA</text>
<text transform="translate(44.80 752.80) scale(1.0 0.99)" font-size="20.8" fill="#000" stroke="#000" stroke-width="0.3" text-anchor="end" font-weight="bold" >IgG</text>
<text transform="translate(52.30 839.00) scale(1.0 1.0)" font-size="16.5" fill="#000" stroke="#000" stroke-width="0.3" text-anchor="middle" font-weight="bold" >0</text>
<text transform="translate(128.21 839.00) scale(1.0 1.0)" font-size="16.5" fill="#000" stroke="#000" stroke-width="0.3" text-anchor="middle" font-weight="bold" >100</text>
<text transform="translate(204.12 839.00) scale(1.0 1.0)" font-size="16.5" fill="#000" stroke="#000" stroke-width="0.3" text-anchor="middle" font-weight="bold" >200</text>
<text transform="translate(280.03 839.00) scale(1.0 1.0)" font-size="16.5" fill="#000" stroke="#000" stroke-width="0.3" text-anchor="middle" font-weight="bold" >300</text>
<text transform="translate(355.94 839.00) scale(1.0 1.0)" font-size="16.5" fill="#000" stroke="#000" stroke-width="0.3" text-anchor="middle" font-weight="bold" >400</text>
<text transform="translate(431.85 839.00) scale(1.0 1.0)" font-size="16.5" fill="#000" stroke="#000" stroke-width="0.3" text-anchor="middle" font-weight="bold" >500</text>
<text transform="translate(507.76 839.00) scale(1.0 1.0)" font-size="16.5" fill="#000" stroke="#000" stroke-width="0.3" text-anchor="middle" font-weight="bold" >600</text>
<text transform="translate(583.67 839.00) scale(1.0 1.0)" font-size="16.5" fill="#000" stroke="#000" stroke-width="0.3" text-anchor="middle" font-weight="bold" >700</text>
<text transform="translate(659.58 839.00) scale(1.0 1.0)" font-size="16.5" fill="#000" stroke="#000" stroke-width="0.3" text-anchor="middle" font-weight="bold" >800</text>
<text transform="translate(72.10 806.50) scale(1.0 0.98)" font-size="16.9" fill="#178a17" stroke="#178a17" stroke-width="0.3" text-anchor="start" font-weight="bold" >75.0</text>
<text transform="translate(121.00 806.50) scale(1.0 0.98)" font-size="16.9" fill="#1c1cc0" stroke="#1c1cc0" stroke-width="0.3" text-anchor="start" font-weight="bold" >86.0</text>
<text transform="translate(299.10 874.60) scale(1 1.04)" font-size="20.5" font-weight="bold" stroke="#000" stroke-width="0.3">K<tspan font-size="15.3" dy="3.2">d,app2</tspan><tspan dy="-3.2"> (nM)</tspan></text>
<path d="M654.7 666.1 H662.4 V745.6 H654.7" fill="none" stroke="#1a1a1a" stroke-width="1.5"/>
<text transform="translate(673.1 706) rotate(90) scale(1 0.92)" font-size="11" text-anchor="middle" dominant-baseline="central" fill="#111">ns</text>
<text transform="translate(10.20 590.70) scale(1.0 1.0)" font-size="27" fill="#222" stroke="#222" stroke-width="0.3" text-anchor="start" font-weight="bold" >c</text>
</svg>
</body></html>
